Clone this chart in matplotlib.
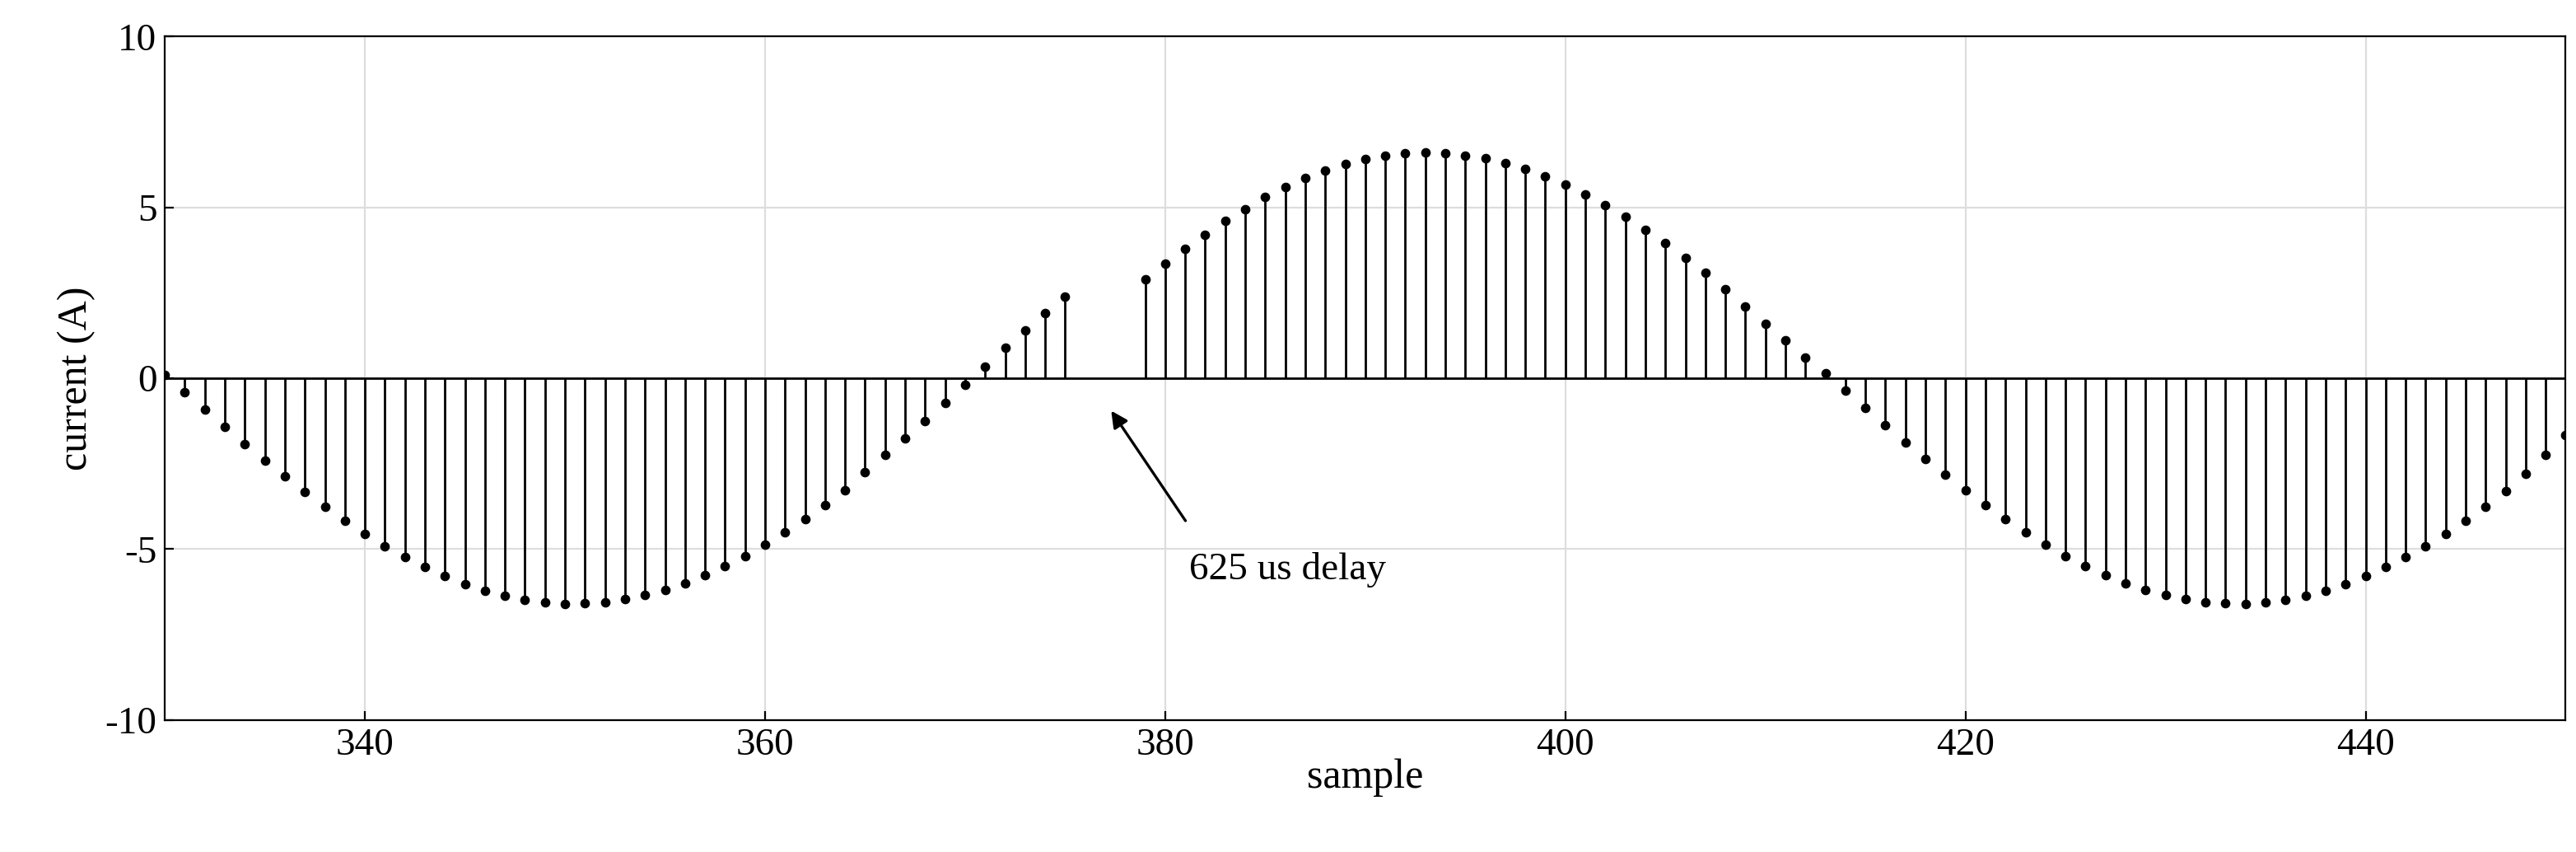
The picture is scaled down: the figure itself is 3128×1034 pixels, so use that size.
import matplotlib
matplotlib.use("Agg")
import matplotlib.pyplot as plt
import numpy as np

samples1 = list(range(330, 376))
values1 = [0.10, -0.41, -0.92, -1.42, -1.92, -2.40, -2.87, -3.32, -3.75, -4.16,
           -4.55, -4.91, -5.23, -5.53, -5.79, -6.02, -6.21, -6.36, -6.48, -6.56,
           -6.60, -6.59, -6.55, -6.47, -6.35, -6.19, -6.00, -5.77, -5.50, -5.20,
           -4.87, -4.51, -4.12, -3.71, -3.28, -2.75, -2.25, -1.75, -1.25, -0.72,
           -0.20, 0.35, 0.90, 1.40, 1.90, 2.40]
samples2 = list(range(379, 451))
values2 = [2.90, 3.35, 3.80, 4.20, 4.60, 4.95, 5.30, 5.60, 5.86, 6.08,
           6.27, 6.42, 6.52, 6.58, 6.60, 6.58, 6.52, 6.43, 6.29, 6.12,
           5.91, 5.67, 5.39, 5.07, 4.73, 4.35, 3.95, 3.53, 3.08, 2.60,
           2.10, 1.60, 1.10, 0.60, 0.15, -0.36, -0.87, -1.37, -1.87, -2.35,
           -2.82, -3.28, -3.71, -4.12, -4.51, -4.87, -5.20, -5.50, -5.77, -6.00,
           -6.19, -6.35, -6.47, -6.55, -6.59, -6.60, -6.56, -6.48, -6.36, -6.21,
           -6.02, -5.79, -5.53, -5.23, -4.91, -4.55, -4.16, -3.75, -3.30, -2.80,
           -2.25, -1.65]
xticks = [340, 360, 380, 400, 420, 440]
yticks = [-10, -5, 0, 5, 10]

plt.rcParams['font.family'] = ['Liberation Serif', 'DejaVu Serif']
plt.rcParams['axes.unicode_minus'] = False
fig = plt.figure(figsize=(15.64, 5.17), dpi=200)
ax = fig.add_axes([0.064, 0.155, 0.932, 0.802])
x = samples1 + samples2
y = values1 + values2
ax.vlines(x, 0, y, color='black', linewidth=1.0)
ax.plot(x, y, 'o', color='black', markersize=3.2)
ax.axhline(0, color='black', linewidth=1.0)
ax.set_xlim(330, 450)
ax.set_ylim(-10, 10)
ax.set_xticks(xticks)
ax.set_yticks(yticks)
ax.grid(True, color='#dddddd', linewidth=0.8)
ax.set_axisbelow(True)
ax.tick_params(labelsize=17, direction='in', length=4)
ax.set_xlabel('sample', fontsize=18, labelpad=-2)
ax.set_ylabel('current (A)', fontsize=18, labelpad=4)
ax.annotate('625 us delay', xy=(377.3, -0.95), xytext=(381.2, -5.6),
            fontsize=17, ha='left', va='center',
            arrowprops=dict(arrowstyle='-|>', color='black', lw=1.2,
                            shrinkA=14, shrinkB=0, mutation_scale=15,
                            relpos=(0.1, 0.9)))
fig.savefig('out.png', dpi=200)
